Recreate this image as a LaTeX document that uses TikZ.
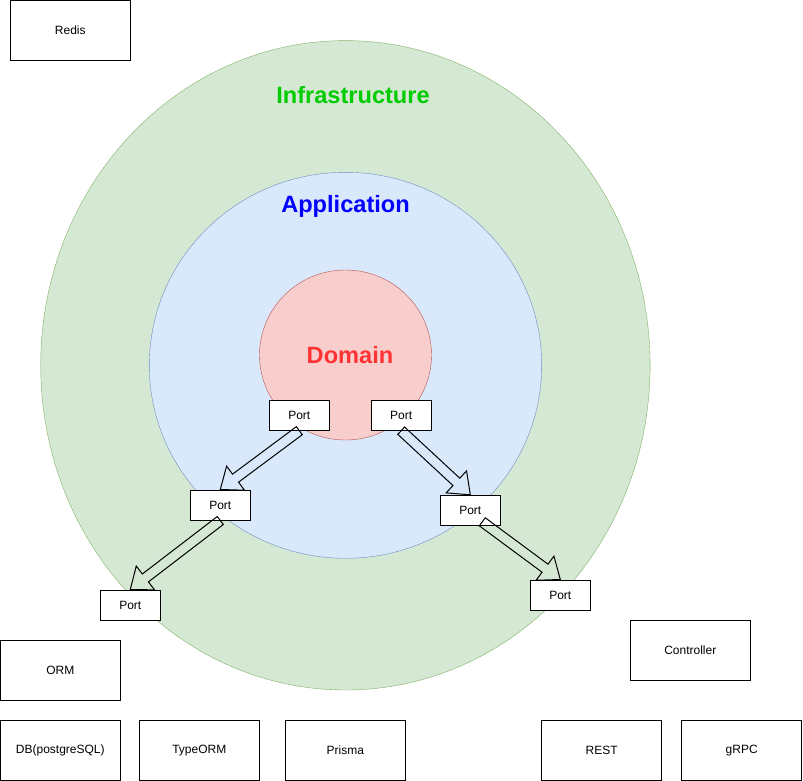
\documentclass[tikz,border=0pt]{standalone}
\usepackage{fontspec}
\setmainfont{Liberation Sans}
\usetikzlibrary{positioning,calc}

\definecolor{infrafill}{HTML}{D5E8D4}
\definecolor{infraline}{HTML}{82B366}
\definecolor{appfill}{HTML}{DAE8FC}
\definecolor{appline}{HTML}{6C8EBF}
\definecolor{domfill}{HTML}{F8CECC}
\definecolor{domline}{HTML}{B85450}
\definecolor{infratext}{RGB}{0,204,0}
\definecolor{apptext}{RGB}{0,0,255}
\definecolor{domtext}{RGB}{255,51,51}

% hollow arrow from #1 to #2
\newcommand{\portarrow}[2]{%
\coordinate (hb) at ($(#2)!19pt!(#1)$);
\draw[flex] ($(#1)!5pt!90:(#2)$) -- ($(hb)!5pt!90:(#2)$) -- ($(hb)!15pt!90:(#2)$) -- (#2)
  -- ($(hb)!15pt!-90:(#2)$) -- ($(hb)!5pt!-90:(#2)$) -- ($(#1)!5pt!-90:(#2)$) -- cycle;
}

\begin{document}
\begin{tikzpicture}[x=1pt, y=-1pt,
box/.style={rectangle, draw=black, line width=1pt, fill=white, minimum width=120pt, minimum height=60pt, inner sep=0pt, font=\fontsize{12}{14}\selectfont},
port/.style={rectangle, draw=black, line width=1pt, fill=white, minimum width=60pt, minimum height=30pt, inner sep=0pt, font=\fontsize{12}{14}\selectfont},
layer/.style={font=\fontsize{23.6}{28}\selectfont\bfseries},
flex/.style={draw=black, line width=1pt},
]
\useasboundingbox (0,0) rectangle (803,781);

% rings
\draw[fill=infrafill, draw=infraline] (345.4,365.3) ellipse [x radius=304.7pt, y radius=324.7pt];
\draw[fill=appfill, draw=appline] (345.5,365.3) ellipse [x radius=196.2pt, y radius=193pt];
\draw[fill=domfill, draw=domline] (345.5,355) ellipse [x radius=86pt, y radius=85pt];

\node[layer, text=infratext](infralabel) at (353,95){Infrastructure};
\node[layer, text=apptext](applabel) at (345.5,206){Application};
\node[layer, text=domtext](domlabel) at (350,355){Domain};

% \node[type](name_of_node) at (x,y){text_in_node}
\node[port](port1) at (299.3,415.2){Port};
\node[port](port2) at (401.2,415.2){Port};
\node[port](port3) at (220.3,505){Port};
\node[port](port4) at (470.3,510.3){Port};
\node[port](port5) at (130.3,605){Port};
\node[port](port6) at (560.3,595){Port};

\node[box](redis) at (70.3,30.3){Redis};
\node[box](db) at (60.3,750.3){DB(postgreSQL)};
\node[box](orm)[above=19pt of db]{ORM};
\node[box](typeorm)[right=18pt of db]{TypeORM};
\node[box](prisma)[right=25pt of typeorm]{Prisma};
\node[box](rest) at (601.7,750.3){REST};
\node[box](grpc)[right=19pt of rest]{gRPC};
\node[box](controller) at (690.3,650.3){Controller};

% \portarrow{from}{to}
\portarrow{port1.south}{port3.north}
\portarrow{port2.south}{port4.north}
\portarrow{port3.south}{port5.north}
\coordinate (p4out) at ($(port4.south)+(12,-4)$);
\portarrow{p4out}{port6.north}

\end{tikzpicture}
\end{document}
